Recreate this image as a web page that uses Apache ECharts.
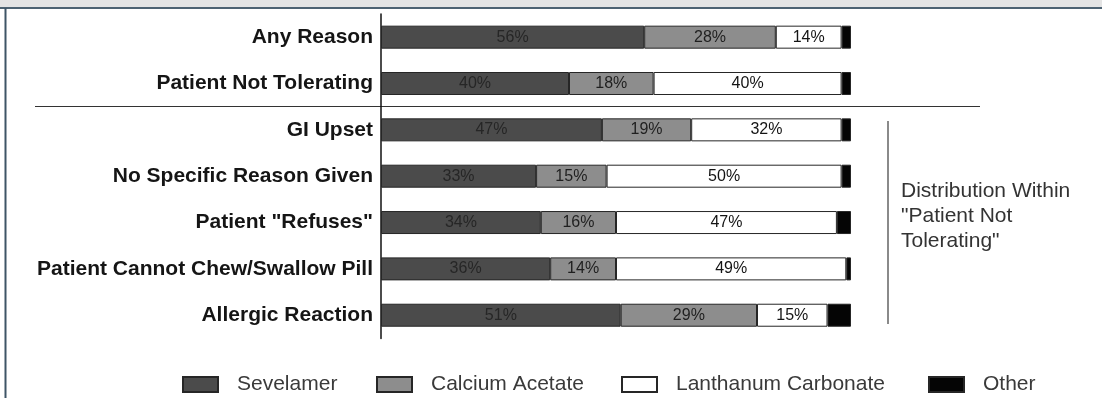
<!DOCTYPE html>
<html>
<head>
<meta charset="utf-8">
<script src="https://cdn.jsdelivr.net/npm/echarts@6/dist/echarts.min.js"></script>
<style>
  html, body { margin: 0; padding: 0; background: #fff; }
  #chart { width: 1102px; height: 398px; }
</style>
</head>
<body>
<div id="chart"></div>
<script>
const reasons = [
  'Any Reason',
  'Patient Not Tolerating',
  'GI Upset',
  'No Specific Reason Given',
  'Patient "Refuses"',
  'Patient Cannot Chew/Swallow Pill',
  'Allergic Reaction'
]
const sevelamer = [56, 40, 47, 33, 34, 36, 51]
const calciumAcetate = [28, 18, 19, 15, 16, 14, 29]
const lanthanum = [14, 40, 32, 50, 47, 49, 15]
const other = [2, 2, 2, 2, 3, 1, 5]

const seriesNames = ['Sevelamer', 'Calcium Acetate', 'Lanthanum Carbonate', 'Other']
const fills = ['#4b4b4b', '#8d8d8d', '#ffffff', '#050505']
const labelColors = ['#262626', '#1f1f1f', '#141414', null]
const legendLeft = [182, 376, 621, 928]

const chart = echarts.init(document.getElementById('chart'))

const makeSeries = (name, data, i) => ({
  name,
  type: 'bar',
  stack: 'total',
  data,
  barWidth: 23,
  itemStyle: { color: fills[i], borderColor: '#262626', borderWidth: 1 },
  label: labelColors[i] ? {
    show: true,
    position: 'inside',
    formatter: '{c}%',
    color: labelColors[i],
    fontFamily: 'Liberation Sans',
    fontSize: 16
  } : { show: false },
  emphasis: { disabled: true }
})

const option = {
  animation: false,
  grid: { left: 381, right: 251, top: 14, height: 324.4 },
  xAxis: { type: 'value', min: 0, max: 100, show: false },
  yAxis: {
    type: 'category',
    data: reasons,
    inverse: true,
    axisTick: { show: false },
    axisLine: { lineStyle: { color: '#111', width: 1.5 } },
    axisLabel: {
      margin: 8,
      color: '#151515',
      fontFamily: 'Liberation Sans',
      fontWeight: 'bold',
      fontSize: 21
    }
  },
  legend: seriesNames.map((name, i) => ({
    data: [name],
    left: legendLeft[i],
    top: 374,
    padding: 0,
    icon: 'rect',
    itemWidth: 35,
    itemHeight: 15,
    selectedMode: false,
    textStyle: {
      color: '#3a3a3a',
      fontFamily: 'Liberation Sans',
      fontSize: 21,
      padding: [0, 0, 0, 14]
    }
  })),
  series: [
    makeSeries(seriesNames[0], sevelamer, 0),
    makeSeries(seriesNames[1], calciumAcetate, 1),
    makeSeries(seriesNames[2], lanthanum, 2),
    makeSeries(seriesNames[3], other, 3)
  ],
  graphic: [
    // top strip + frame
    { type: 'rect', shape: { x: 0, y: 0, width: 1102, height: 8 }, style: { fill: '#e4e4e4' }, silent: true },
    { type: 'line', shape: { x1: 0, y1: 8, x2: 1102, y2: 8 }, style: { stroke: '#4d6272', lineWidth: 2 }, silent: true },
    { type: 'line', shape: { x1: 5.5, y1: 8, x2: 5.5, y2: 398 }, style: { stroke: '#3f5566', lineWidth: 2 }, silent: true },
    // separator between summary rows and breakdown
    { type: 'line', shape: { x1: 35, y1: 106.5, x2: 980, y2: 106.5 }, style: { stroke: '#333', lineWidth: 1.2 }, silent: true },
    // bracket for breakdown rows
    { type: 'line', shape: { x1: 888, y1: 121, x2: 888, y2: 324 }, style: { stroke: '#8a8a8a', lineWidth: 2 }, silent: true },
    {
      type: 'text',
      left: 901,
      top: 179,
      style: {
        text: 'Distribution Within\n"Patient Not\nTolerating"',
        fill: '#333',
        font: '21px "Liberation Sans"',
        lineHeight: 25
      },
      silent: true
    }
  ]
}

chart.setOption(option)
</script>
</body>
</html>
